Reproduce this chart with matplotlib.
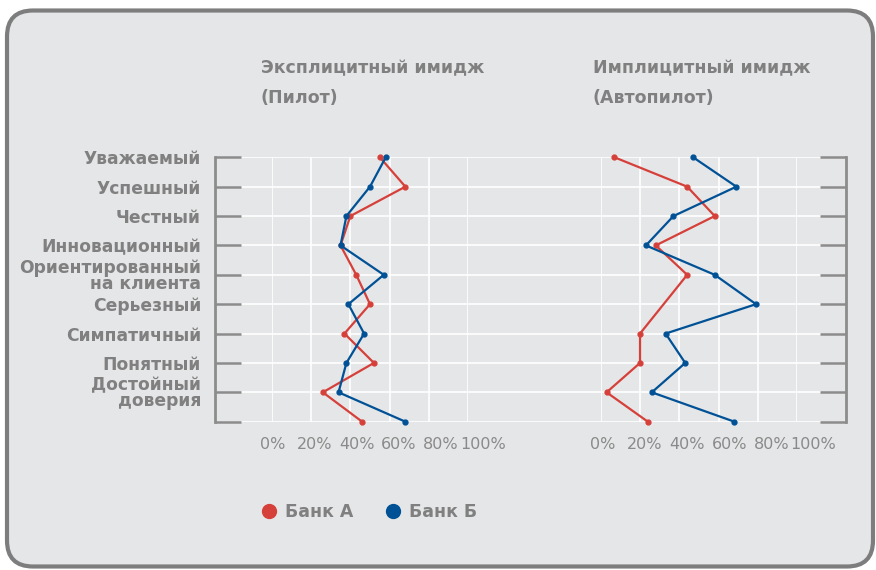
import numpy as np
import matplotlib.pyplot as plt
from matplotlib.patches import FancyBboxPatch
from matplotlib.lines import Line2D

categories = ['Уважаемый', 'Успешный', 'Честный', 'Инновационный',
              'Ориентированный\nна клиента', 'Серьезный', 'Симпатичный',
              'Понятный', 'Достойный\nдоверия', '']

# values in %, one per row (the last row has no label in the source)
explicit_a = [55, 68, 40, 35, 43, 50, 37, 52, 26, 46]
explicit_b = [58, 50, 38, 35, 57, 39, 47, 38, 34, 68]
implicit_a = [7, 44, 58, 28, 44, 32, 20, 20, 3, 24]
implicit_b = [47, 69, 37, 23, 58, 79, 33, 43, 26, 68]

pct_ticks = [0, 20, 40, 60, 80, 100]
pct_labels = ['0%', '20%', '40%', '60%', '80%', '100%']
titles = ['Эксплицитный имидж\n(Пилот)', 'Имплицитный имидж\n(Автопилот)']
legend_names = ['Банк А', 'Банк Б']

RED = '#d6403a'
BLUE = '#005195'
GREY = '#808080'
BG = '#e5e6e8'

W, H = 876, 570
fig = plt.figure(figsize=(W / 100, H / 100), dpi=100)
fig.patch.set_facecolor('white')

# rounded frame
frame = FancyBboxPatch((0.07, 0.035), 8.66, 5.56,
                       boxstyle='round,pad=0,rounding_size=0.26',
                       transform=fig.dpi_scale_trans, facecolor=BG,
                       edgecolor='#7d7d7d', linewidth=3.0, zorder=-10)
fig.patches.append(frame)


def px_rect(x0, x1, y_top, y_bot):
    return [x0 / W, 1 - y_bot / H, (x1 - x0) / W, (y_bot - y_top) / H]


Y_TOP, Y_BOT = 157.3, 421.7
rows = np.arange(len(categories))

# background axes: spines, ticks, category labels, horizontal grid
ax = fig.add_axes(px_rect(215, 846, Y_TOP, Y_BOT))
ax.set_facecolor('none')
ax.set_xlim(0, 1)
ax.set_ylim(rows[-1], 0)
ax.set_xticks([])
for s in ['top', 'bottom']:
    ax.spines[s].set_visible(False)
for s in ['left', 'right']:
    ax.spines[s].set_color('#8c8c8c')
    ax.spines[s].set_linewidth(2.0)
ax.set_yticks(rows)
ax.set_yticklabels(categories)
ax.yaxis.set_ticks_position('both')
ax.tick_params(axis='y', direction='in', length=18.5, width=1.8,
               color='#8c8c8c', pad=10, labelsize=12.3, labelcolor=GREY)
for lab in ax.get_yticklabels():
    lab.set_fontweight('bold')
    lab.set_linespacing(0.85)
x_l = (241 - 215) / (846 - 215)
x_r = (821 - 215) / (846 - 215)
ax.hlines(rows, x_l, x_r, color='white', linewidth=1.2, zorder=1)

panels = [(271.7, 468.3, 272.6, 483.0, explicit_a, explicit_b, 261, None),
          (600.7, 797.3, 603.0, 813.5, implicit_a, implicit_b, 593, [0, 1, 2, 3, 4, 6, 7, 8, 9])]

for x0, x1, lx0, lx1, va, vb, tx, skip in panels:
    p = fig.add_axes(px_rect(x0, x1, Y_TOP, Y_BOT))
    p.set_facecolor('none')
    p.set_xlim(0, 100)
    p.set_ylim(rows[-1], 0)
    for s in p.spines.values():
        s.set_visible(False)
    p.set_xticks([])
    p.set_yticks([])
    p.vlines(pct_ticks, 0, rows[-1], color='white', linewidth=1.2, zorder=1)
    p.plot(va, rows, color=RED, linewidth=1.6, marker='o', markersize=3.5,
           markevery=skip, clip_on=False, zorder=3)
    p.plot(vb, rows, color=BLUE, linewidth=1.6, marker='o', markersize=3.5,
           clip_on=False, zorder=4)

    # percentage labels (spaced a bit wider than the grid, as in the source)
    lab_ax = fig.add_axes(px_rect(lx0, lx1, Y_TOP, Y_BOT))
    lab_ax.set_facecolor('none')
    lab_ax.set_xlim(0, 100)
    lab_ax.set_yticks([])
    for s in lab_ax.spines.values():
        s.set_visible(False)
    lab_ax.set_xticks(pct_ticks)
    lab_ax.set_xticklabels(pct_labels)
    lab_ax.tick_params(axis='x', length=0, pad=11, labelsize=11.5,
                       labelcolor='#8a8a8a')

for (x0, x1, lx0, lx1, va, vb, tx, skip), t in zip(panels, titles):
    fig.text(tx / W, 1 - 59 / H, t, ha='left', va='top', fontsize=12.5,
             fontweight='bold', color=GREY, linespacing=1.85)

handles = [Line2D([], [], linestyle='none', marker='o', markersize=10,
                  color=c) for c in (RED, BLUE)]
fig.legend(handles, legend_names, loc='center left',
           bbox_to_anchor=(243 / W, 1 - 512 / H), ncol=2, frameon=False,
           handletextpad=0.3, columnspacing=1.7, handlelength=1.2,
           prop={'size': 12.5, 'weight': 'bold'}, labelcolor=GREY)

fig.savefig('out.png', dpi=100, facecolor=fig.get_facecolor())
